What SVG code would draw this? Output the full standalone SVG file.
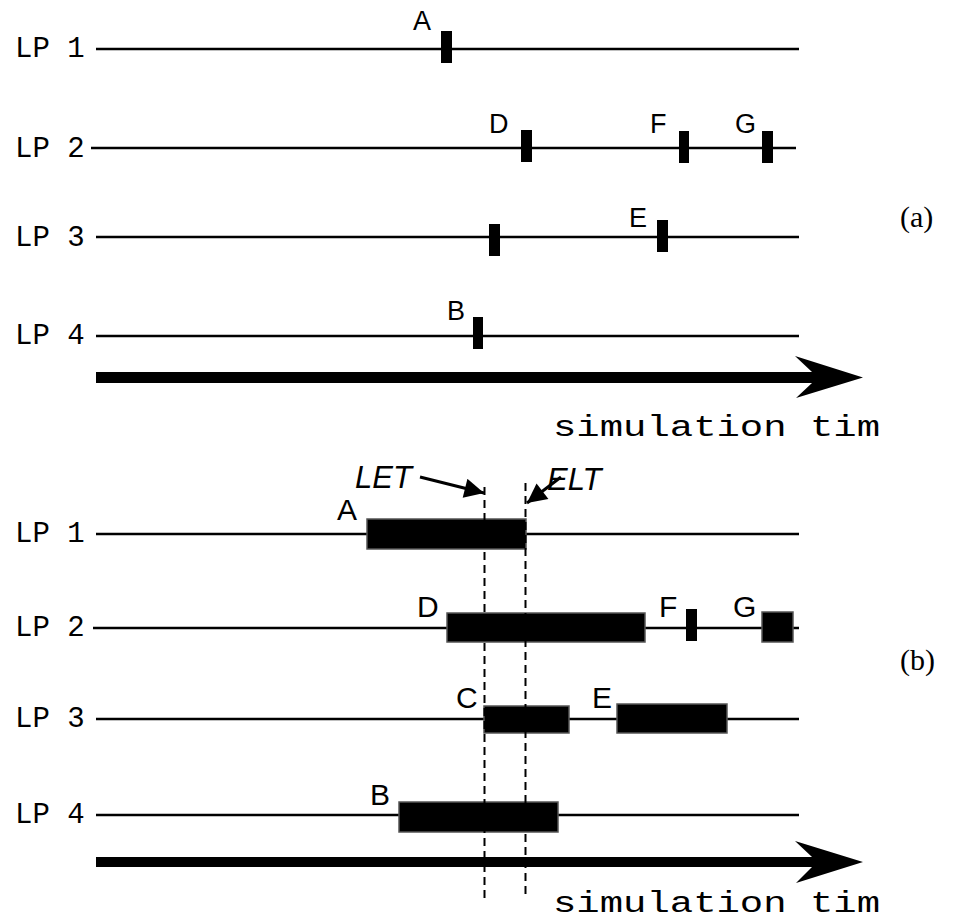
<svg xmlns="http://www.w3.org/2000/svg" width="954" height="922" viewBox="0 0 954 922">
<defs>
<style>
.lp{font-family:"Liberation Mono","Courier New","DejaVu Sans Mono",monospace;font-size:29px;fill:#000}
.st{font-family:"Liberation Mono","Courier New","DejaVu Sans Mono",monospace;font-size:30px;fill:#000}
.ev{font-family:"Liberation Sans",Arial,sans-serif;font-size:27px;fill:#000}
.evb{font-family:"Liberation Sans",Arial,sans-serif;font-size:30px;fill:#000}
.it{font-family:"Liberation Sans",Arial,sans-serif;font-size:31px;font-style:italic;fill:#000}
.cap{font-family:"Liberation Serif","Times New Roman",serif;font-size:30px;fill:#000}
.tl{stroke:#000;stroke-width:2.5;fill:none}
.mk{fill:#000}
.bar{fill:#000;stroke:#555;stroke-width:1.5}
.dash{stroke:#000;stroke-width:2;stroke-dasharray:8 5;fill:none}
.ptr{stroke:#000;stroke-width:3;fill:none}
</style>
<marker id="ah" viewBox="0 0 10 10" refX="10" refY="5" markerWidth="7.5" markerHeight="6.5" markerUnits="strokeWidth" orient="auto">
<path d="M0,0 L10,5 L0,10 z" fill="#000"/>
</marker>
</defs>

<g id="part-a">
<g id="a-lp1">
<text class="lp" x="15" y="57">LP 1</text>
<line class="tl" x1="96" y1="49" x2="799" y2="49"/>
</g>
<g id="a-lp2">
<text class="lp" x="15" y="157">LP 2</text>
<line class="tl" x1="91" y1="148" x2="796" y2="148"/>
</g>
<g id="a-lp3">
<text class="lp" x="15" y="246">LP 3</text>
<line class="tl" x1="96" y1="237" x2="799" y2="237"/>
</g>
<g id="a-lp4">
<text class="lp" x="15" y="344">LP 4</text>
<line class="tl" x1="96" y1="336" x2="799" y2="336"/>
</g>
<g id="a-A"><rect class="mk" x="441" y="31" width="11" height="32"/><text class="ev" x="413" y="30">A</text></g>
<g id="a-D"><rect class="mk" x="521" y="130" width="11" height="32"/><text class="ev" x="489" y="133">D</text></g>
<g id="a-F"><rect class="mk" x="679" y="131" width="10" height="32"/><text class="ev" x="650" y="133">F</text></g>
<g id="a-G"><rect class="mk" x="762" y="131" width="11" height="32"/><text class="ev" x="735" y="133">G</text></g>
<g id="a-C"><rect class="mk" x="489" y="224" width="11" height="32"/></g>
<g id="a-E"><rect class="mk" x="657" y="220" width="11" height="32"/><text class="ev" x="629" y="227">E</text></g>
<g id="a-B"><rect class="mk" x="473" y="317" width="10" height="32"/><text class="ev" x="447" y="320">B</text></g>
<g id="a-time">
<polygon class="mk" points="96,372 812,372 795,356 863,377.5 796,398 812,383 96,383"/>
<text class="st" x="553" y="436" textLength="327" lengthAdjust="spacingAndGlyphs">simulation tim</text>
</g>
<text class="cap" x="900" y="227">(a)</text>
</g>

<g id="part-b">
<g id="b-lp1">
<text class="lp" x="15" y="542">LP 1</text>
<line class="tl" x1="96" y1="534" x2="799" y2="534"/>
</g>
<g id="b-lp2">
<text class="lp" x="15" y="636">LP 2</text>
<line class="tl" x1="93" y1="628" x2="799" y2="628"/>
</g>
<g id="b-lp3">
<text class="lp" x="15" y="727">LP 3</text>
<line class="tl" x1="96" y1="719" x2="799" y2="719"/>
</g>
<g id="b-lp4">
<text class="lp" x="15" y="823">LP 4</text>
<line class="tl" x1="96" y1="815" x2="799" y2="815"/>
</g>
<g id="b-A"><rect class="bar" x="367" y="519" width="159" height="30"/><text class="evb" x="337" y="520">A</text></g>
<g id="b-D"><rect class="bar" x="447" y="613" width="198" height="29"/><text class="evb" x="417" y="617">D</text></g>
<g id="b-F"><rect class="mk" x="686" y="609" width="11" height="32"/><text class="evb" x="659" y="617">F</text></g>
<g id="b-G"><rect class="bar" x="762" y="612" width="31" height="30"/><text class="evb" x="733" y="617">G</text></g>
<g id="b-C"><rect class="bar" x="484" y="706" width="85" height="27"/><text class="evb" x="456" y="708">C</text></g>
<g id="b-E"><rect class="bar" x="617" y="704" width="110" height="29"/><text class="evb" x="592" y="708">E</text></g>
<g id="b-B"><rect class="bar" x="399" y="802" width="159" height="30"/><text class="evb" x="370" y="805">B</text></g>
<g id="b-time">
<polygon class="mk" points="96,857 812,857 795,841 863,862 796,883 812,867 96,867"/>
<text class="st" x="553" y="912" textLength="327" lengthAdjust="spacingAndGlyphs">simulation tim</text>
</g>
<g id="b-LET"><text class="it" x="355" y="488">LET</text></g>
<g id="b-ELT"><text class="it" x="547" y="490">ELT</text></g>
<text class="cap" x="900" y="670">(b)</text>
</g>

<g id="connectors">
<line class="dash" x1="484.5" y1="487" x2="484.5" y2="898"/>
<line class="dash" x1="525.5" y1="483" x2="525.5" y2="896"/>
<line class="ptr" x1="420" y1="477" x2="484" y2="493" marker-end="url(#ah)"/>
<line class="ptr" x1="561" y1="477" x2="527" y2="503" marker-end="url(#ah)"/>
</g>
</svg>
